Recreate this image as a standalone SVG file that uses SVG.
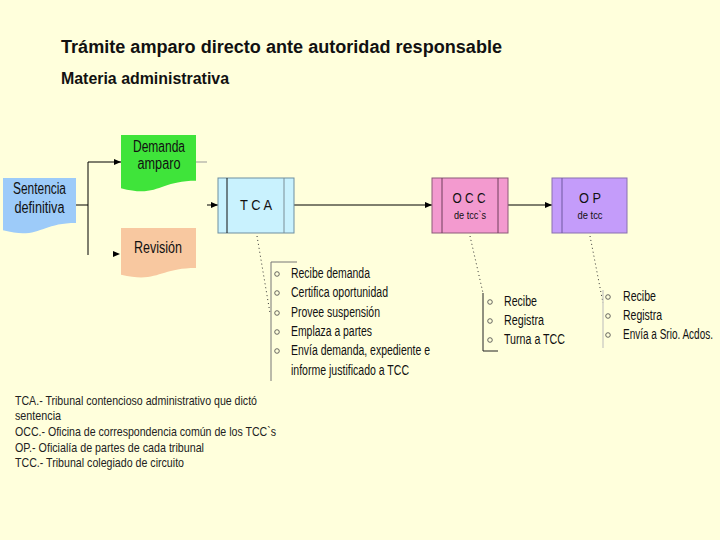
<svg xmlns="http://www.w3.org/2000/svg" width="720" height="540" viewBox="0 0 720 540">
<defs>
<style>
text{font-family:"Liberation Sans",Arial,sans-serif;fill:#111}
.title{font-size:18px;font-weight:bold}
.sub{font-size:16px;font-weight:bold}
.nd{font-size:16px}
.bx{font-size:15px}
.small{font-size:11.5px}
.li{font-size:14px}
.lg{font-size:13px;fill:#222}
.conn{stroke:#000;stroke-width:1;fill:none}
.dot{stroke:#333;stroke-width:1;fill:none;stroke-dasharray:1 3}
.brk{stroke:#777;stroke-width:1;fill:none}
.bul{stroke:#444;stroke-width:0.8;fill:none}
</style>
<marker id="ah" markerUnits="userSpaceOnUse" markerWidth="7" markerHeight="6" refX="7" refY="3" orient="auto">
<path d="M0,0 L7,3 L0,6 Z" fill="#000"/>
</marker>
</defs>
<rect width="720" height="540" fill="#FFFFDC"/>
<g id="heading">
<text class="title" x="61" y="53" textLength="441" lengthAdjust="spacingAndGlyphs">Trámite amparo directo ante autoridad responsable</text>
<text class="sub" x="61" y="84" textLength="168" lengthAdjust="spacingAndGlyphs">Materia administrativa</text>
</g>
<g id="connectors">
<path class="conn" d="M76,205 H88"/>
<path class="conn" d="M88,162 V255"/>
<path class="conn" d="M88,162 H121" marker-end="url(#ah)"/>
<path d="M88,254 H120" stroke="none" fill="none" marker-end="url(#ah)"/>
<path d="M196,162 H207" stroke="#999" stroke-width="1" fill="none"/>
<path class="conn" d="M207,205 H218" marker-end="url(#ah)"/>
<path class="conn" d="M294,205 H432" marker-end="url(#ah)"/>
<path class="conn" d="M508,205 H552" marker-end="url(#ah)"/>
<path class="dot" d="M257,236 L270,313"/>
<path class="dot" d="M470,236 L483,293"/>
<path class="dot" d="M590,236 L603,303"/>
</g>
<g id="sentencia">
<path d="M3,178 H76 V222.9 C39.5,222.9 39.5,240 3,230.3 Z" fill="#9DCBF9"/>
<text class="nd" x="39.5" y="194" text-anchor="middle" textLength="53" lengthAdjust="spacingAndGlyphs">Sentencia</text>
<text class="nd" x="39.5" y="213" text-anchor="middle" textLength="50" lengthAdjust="spacingAndGlyphs">definitiva</text>
</g>
<g id="demanda">
<path d="M121,135 H196 V180.7 C158.5,180.7 158.5,198.1 121,188.2 Z" fill="#3FE43A"/>
<text class="nd" x="159" y="152" text-anchor="middle" textLength="52" lengthAdjust="spacingAndGlyphs">Demanda</text>
<text class="nd" x="159" y="169" text-anchor="middle" textLength="43" lengthAdjust="spacingAndGlyphs">amparo</text>
</g>
<g id="revision">
<path d="M121,228 H196 V268.1 C158.5,268.1 158.5,283.4 121,274.7 Z" fill="#F8C8A0"/>
<text class="nd" x="158" y="253" text-anchor="middle" textLength="48" lengthAdjust="spacingAndGlyphs">Revisión</text>
</g>
<g id="tca">
<rect x="218" y="178" width="76" height="55" fill="#C9F2FE" stroke="#6E8FA0" stroke-width="1"/>
<line x1="227" y1="178" x2="227" y2="233" stroke="#111" stroke-width="1"/>
<line x1="284" y1="178" x2="284" y2="233" stroke="#7A8E96" stroke-width="1"/>
<text class="bx" x="256" y="210" text-anchor="middle" textLength="32" lengthAdjust="spacingAndGlyphs">T C A</text>
</g>
<g id="occ">
<rect x="432" y="178" width="76" height="55" fill="#F39ACF" stroke="#8C5A78" stroke-width="1"/>
<line x1="442" y1="178" x2="442" y2="233" stroke="#6E3E5A" stroke-width="1"/>
<line x1="498" y1="178" x2="498" y2="233" stroke="#6E3E5A" stroke-width="1"/>
<text class="bx" x="469" y="203" text-anchor="middle" textLength="33" lengthAdjust="spacingAndGlyphs">O C C</text>
<text class="small" x="470" y="219" text-anchor="middle" textLength="32" lengthAdjust="spacingAndGlyphs">de tcc`s</text>
</g>
<g id="op">
<rect x="552" y="178" width="75" height="55" fill="#C49CFA" stroke="#8A70B0" stroke-width="1"/>
<line x1="562" y1="178" x2="562" y2="233" stroke="#6F58A0" stroke-width="1"/>
<text class="bx" x="590" y="203" text-anchor="middle" textLength="22" lengthAdjust="spacingAndGlyphs">O P</text>
<text class="small" x="590" y="219" text-anchor="middle" textLength="25" lengthAdjust="spacingAndGlyphs">de tcc</text>
</g>
<g id="tca-list">
<path class="brk" d="M297,262 H271 V381"/>
<circle class="bul" cx="277" cy="274" r="2.3"/>
<circle class="bul" cx="277" cy="293" r="2.3"/>
<circle class="bul" cx="277" cy="313" r="2.3"/>
<circle class="bul" cx="277" cy="332" r="2.3"/>
<circle class="bul" cx="277" cy="351" r="2.3"/>
<text class="li" x="291" y="278" textLength="79" lengthAdjust="spacingAndGlyphs">Recibe demanda</text>
<text class="li" x="291" y="297" textLength="97" lengthAdjust="spacingAndGlyphs">Certifica oportunidad</text>
<text class="li" x="291" y="317" textLength="89" lengthAdjust="spacingAndGlyphs">Provee suspensión</text>
<text class="li" x="291" y="336" textLength="81" lengthAdjust="spacingAndGlyphs">Emplaza a partes</text>
<text class="li" x="291" y="355" textLength="139" lengthAdjust="spacingAndGlyphs">Envía demanda, expediente e</text>
<text class="li" x="291" y="375" textLength="118" lengthAdjust="spacingAndGlyphs">informe justificado a TCC</text>
</g>
<g id="occ-list">
<path d="M483,293 V351 H498" stroke="#222" stroke-width="1" fill="none"/>
<circle class="bul" cx="490" cy="302" r="2.3"/>
<circle class="bul" cx="490" cy="321" r="2.3"/>
<circle class="bul" cx="490" cy="340" r="2.3"/>
<text class="li" x="504" y="306" textLength="33" lengthAdjust="spacingAndGlyphs">Recibe</text>
<text class="li" x="504" y="325" textLength="40" lengthAdjust="spacingAndGlyphs">Registra</text>
<text class="li" x="504" y="344" textLength="61" lengthAdjust="spacingAndGlyphs">Turna a TCC</text>
</g>
<g id="op-list">
<path d="M603,290 V348" stroke="#bbb" stroke-width="1" fill="none"/>
<circle class="bul" cx="608" cy="297" r="2.3"/>
<circle class="bul" cx="608" cy="316" r="2.3"/>
<circle class="bul" cx="608" cy="335" r="2.3"/>
<text class="li" x="623" y="301" textLength="33" lengthAdjust="spacingAndGlyphs">Recibe</text>
<text class="li" x="623" y="320" textLength="39" lengthAdjust="spacingAndGlyphs">Registra</text>
<text class="li" x="623" y="339" textLength="90" lengthAdjust="spacingAndGlyphs">Envía a Srio. Acdos.</text>
</g>
<g id="legend">
<text class="lg" x="15" y="405" textLength="242" lengthAdjust="spacingAndGlyphs">TCA.- Tribunal contencioso administrativo que dictó</text>
<text class="lg" x="15" y="420" textLength="46" lengthAdjust="spacingAndGlyphs">sentencia</text>
<text class="lg" x="15" y="436" textLength="261" lengthAdjust="spacingAndGlyphs">OCC.- Oficina de correspondencia común de los TCC`s</text>
<text class="lg" x="15" y="452" textLength="189" lengthAdjust="spacingAndGlyphs">OP.- Oficialía de partes de cada tribunal</text>
<text class="lg" x="15" y="467" textLength="169" lengthAdjust="spacingAndGlyphs">TCC.- Tribunal colegiado de circuito</text>
</g>
</svg>
